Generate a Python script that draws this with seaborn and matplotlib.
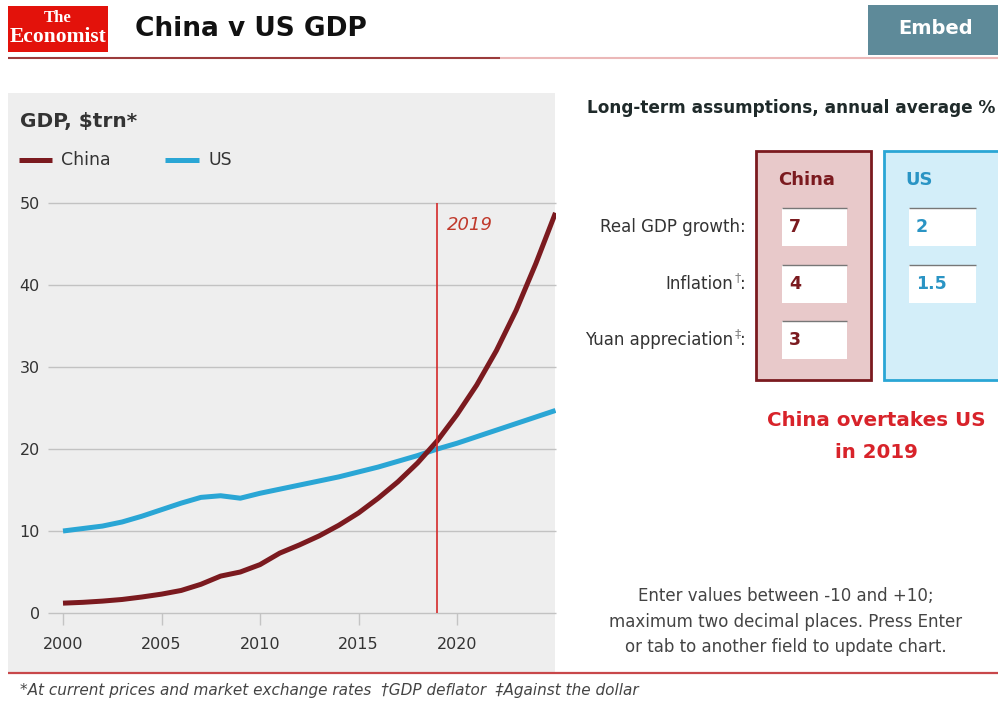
import matplotlib
matplotlib.use("Agg")
import matplotlib.pyplot as plt
from matplotlib.patches import Rectangle
from matplotlib.lines import Line2D
import pandas as pd
import seaborn as sns

# GDP, $trn at current prices and market exchange rates
years = list(range(2000, 2026))
china_gdp = [1.2, 1.3, 1.45, 1.65, 1.95, 2.3, 2.75, 3.5, 4.5, 5.0, 5.9,
             7.3, 8.3, 9.4, 10.7, 12.2, 14.0, 16.0, 18.3, 21.0, 24.2,
             27.8, 32.0, 36.9, 42.6, 48.8]
us_gdp = [10.0, 10.3, 10.6, 11.1, 11.8, 12.6, 13.4, 14.1, 14.3, 14.0, 14.6,
          15.1, 15.6, 16.1, 16.6, 17.2, 17.8, 18.5, 19.2, 20.0, 20.7,
          21.5, 22.3, 23.1, 23.9, 24.7]
y_ticks = [0, 10, 20, 30, 40, 50]
x_ticks = [2000, 2005, 2010, 2015, 2020]
crossover_year = 2019

assumption_labels = ["Real GDP growth", "Inflation", "Yuan appreciation"]
assumption_marks = ["", "\u2020", "\u2021"]
china_assumptions = ["7", "4", "3"]
us_assumptions = ["2", "1.5"]

CHINA = "#7b1a1f"
US = "#2aa6d5"
RED = "#e3120b"
PANEL = "#eeeeee"
TEXT = "#333333"

W, H = 998, 704
sns.set_style("white")
plt.rcParams["font.family"] = ["DejaVu Sans"]
plt.rcParams["lines.solid_capstyle"] = "butt"

fig = plt.figure(figsize=(W / 100, H / 100), dpi=100)
fig.patch.set_facecolor("white")


def rect(x0, y0, x1, y1, **kw):
    fig.add_artist(Rectangle((x0 / W, 1 - y1 / H), (x1 - x0) / W, (y1 - y0) / H,
                             transform=fig.transFigure, **kw))


def hline(x0, x1, y, **kw):
    fig.add_artist(Line2D([x0 / W, x1 / W], [1 - y / H, 1 - y / H],
                          transform=fig.transFigure, **kw))


def txt(x, y, s, **kw):
    kw.setdefault("va", "center")
    fig.text(x / W, 1 - y / H, s, **kw)


# ---- header ----
rect(8, 6, 108, 52, facecolor=RED, edgecolor="none")
txt(58, 18, "The", ha="center", color="white", fontsize=12, fontweight="bold",
    family=["Liberation Serif"])
txt(58, 37, "Economist", ha="center", color="white", fontsize=15.5,
    fontweight="bold", family=["Liberation Serif"])
txt(135, 29, "China v US GDP", fontsize=19, fontweight="bold", color="#111111")
rect(868, 5, 998, 55, facecolor="#5e8a99", edgecolor="none")
txt(936, 29, "Embed", ha="center", fontsize=14, fontweight="bold", color="white")
hline(8, 500, 57.5, color="#9b3b3b", lw=1.5)
hline(500, 998, 57.5, color="#ebb8b8", lw=1.5)

# ---- chart panel ----
rect(8, 93, 555, 672, facecolor=PANEL, edgecolor="none", zorder=0)
txt(20, 122, "GDP, $trn*", fontsize=14.5, fontweight="bold", color=TEXT)
fig.add_artist(Line2D([19 / W, 52 / W], [1 - 160 / H] * 2, transform=fig.transFigure,
                      color=CHINA, lw=3.6))
txt(61, 160, "China", fontsize=12.5, color=TEXT)
fig.add_artist(Line2D([165 / W, 199 / W], [1 - 160 / H] * 2, transform=fig.transFigure,
                      color=US, lw=3.6))
txt(208, 160, "US", fontsize=12.5, color=TEXT)

df = pd.DataFrame({
    "year": years * 2,
    "gdp": us_gdp + china_gdp,
    "country": ["US"] * len(years) + ["China"] * len(years),
})

ax_l, ax_r, ax_t, ax_b = 48, 555.5, 203, 613
ax = fig.add_axes([ax_l / W, 1 - ax_b / H, (ax_r - ax_l) / W, (ax_b - ax_t) / H])
ax.set_facecolor("none")
sns.lineplot(data=df, x="year", y="gdp", hue="country", hue_order=["US", "China"],
             palette={"China": CHINA, "US": US}, lw=3.6, legend=False, ax=ax,
             zorder=3)
px_per_year = 19.7
ax.set_xlim(2000 - (63 - ax_l) / px_per_year, 2000 + (ax_r - 63) / px_per_year)
ax.set_ylim(0, 50)
ax.set_xticks(x_ticks)
ax.set_yticks(y_ticks)
ax.set_xlabel("")
ax.set_ylabel("")
for s in ax.spines.values():
    s.set_visible(False)
ax.grid(axis="y", color="#c2c2c2", lw=1.0)
ax.grid(axis="x", visible=False)
for gl in ax.get_ygridlines():
    gl.set_clip_on(False)
ax.tick_params(axis="y", length=0, pad=6, labelsize=11.5, labelcolor=TEXT)
ax.tick_params(axis="x", direction="out", length=8.5, width=1, color="#c4c4c4",
               pad=9, labelsize=11.5, labelcolor=TEXT, bottom=True)
ax.axvline(crossover_year, color="#d42a2a", lw=1.2, zorder=4)
ax.text(crossover_year + 0.5, 47.3, str(crossover_year), style="italic",
        color="#c0392b", fontsize=13, va="center", ha="left")

# ---- assumptions panel ----
txt(587, 108, "Long-term assumptions, annual average %", fontsize=12.15,
    fontweight="bold", color="#1f2a2a")
rect(756, 151, 871, 380, facecolor="#e8c9ca", edgecolor=CHINA, lw=2)
rect(884, 151, 1005, 380, facecolor="#d3eef9", edgecolor=US, lw=2)
txt(807, 180, "China", ha="center", fontsize=13, fontweight="bold", color=CHINA)
txt(905, 180, "US", ha="left", fontsize=13, fontweight="bold", color="#2a94c4")

row_y = [227, 284, 340]
for i, (lab, mark) in enumerate(zip(assumption_labels, assumption_marks)):
    y = row_y[i]
    if mark:
        txt(746, y, ":", ha="right", fontsize=12, color=TEXT)
        txt(741, y - 6, mark, ha="right", fontsize=9, color="#888888")
        txt(733, y, lab, ha="right", fontsize=12, color=TEXT)
    else:
        txt(746, y, lab + ":", ha="right", fontsize=12, color=TEXT)

for i, val in enumerate(china_assumptions):
    y = row_y[i]
    rect(782, y - 19, 847, y + 19, facecolor="white", edgecolor="none")
    hline(782, 847, y - 19, color="#777777", lw=1)
    txt(789, y, val, fontsize=12.5, fontweight="bold", color=CHINA)
for i, val in enumerate(us_assumptions):
    y = row_y[i]
    rect(909, y - 19, 976, y + 19, facecolor="white", edgecolor="none")
    hline(909, 976, y - 19, color="#777777", lw=1)
    txt(916, y, val, fontsize=12.5, fontweight="bold", color="#2a94c4")

txt(876, 421, "China overtakes US", ha="center", fontsize=14.3, fontweight="bold",
    color="#d8232a")
txt(876, 452, f"in {crossover_year}", ha="center", fontsize=14.3, fontweight="bold",
    color="#d8232a")

for y, line in zip([596, 622, 647], ["Enter values between -10 and +10;",
                                     "maximum two decimal places. Press Enter",
                                     "or tab to another field to update chart."]):
    txt(786, y, line, ha="center", fontsize=12, color="#444444")

# ---- footer ----
hline(8, 998, 673, color="#c8474a", lw=1.6)
txt(20, 691, "*At current prices and market exchange rates  \u2020GDP deflator  "
    "\u2021Against the dollar", fontsize=11, style="italic", color="#444444")

fig.savefig("out.png", dpi=100)
